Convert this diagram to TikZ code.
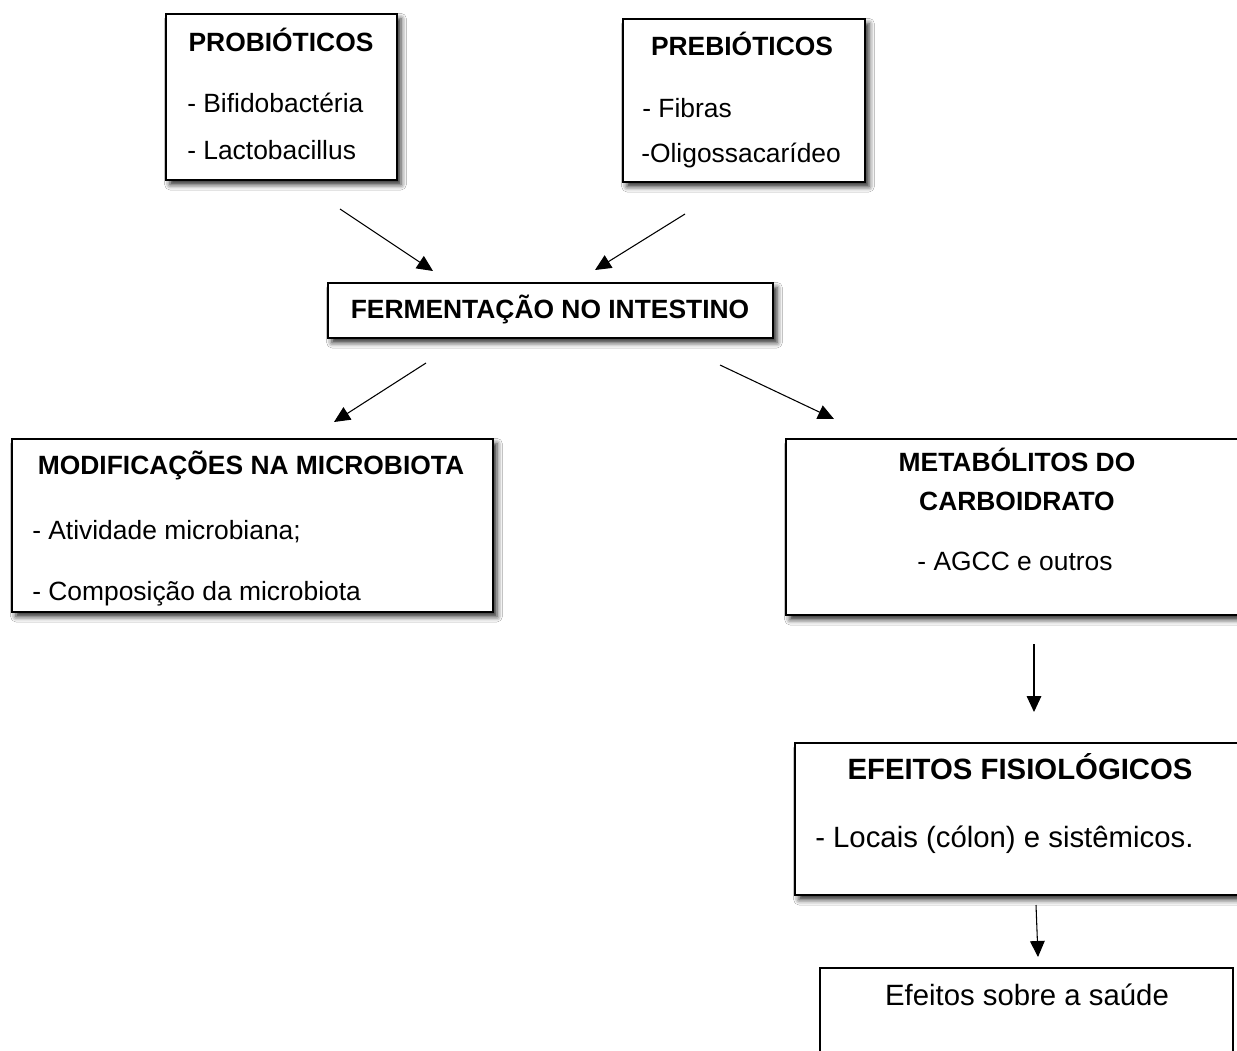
\documentclass[tikz,border=0pt]{standalone}
\usepackage{fontspec}
\setmainfont{Liberation Sans}
\usetikzlibrary{arrows.meta,fit,shadows.blur}

\begin{document}
\begin{tikzpicture}[x=0.75pt, y=-0.75pt,
	box/.style={draw, line width=1.5pt, fill=white, inner sep=0pt,
		blur shadow={shadow xshift=3pt, shadow yshift=-3.5pt, shadow blur radius=4pt, shadow opacity=85}},
	plain box/.style={draw, line width=1.5pt, fill=white, inner sep=0pt},
	title/.style={font=\fontsize{19.8}{24}\selectfont\bfseries, anchor=base, inner sep=0pt},
	item/.style={font=\fontsize{19.8}{24}\selectfont, anchor=base west, inner sep=0pt},
	big title/.style={title, font=\fontsize{22}{26}\selectfont\bfseries},
	big item/.style={item, font=\fontsize{22}{26}\selectfont},
	arrow/.style={-{Triangle[length=12pt,width=11pt]}, line width=0.8pt},]

\useasboundingbox (0,0) rectangle (1237,1050);
\clip (0,0) rectangle (1237,1050);
\fill[white] (0,0) rectangle (1237,1050);

% sources
\node[box, fit={(166,14) (397,180)}] (probio) {};
\node[title] (probioT) at (281,51) {PROBIÓTICOS};
\node[item] (bifido) at (187,112) {- Bifidobactéria};
\node[item] (lacto) at (187,159) {- Lactobacillus};

\node[box, fit={(623,19) (865,182)}] (prebio) {};
\node[title] (prebioT) at (742,55) {PREBIÓTICOS};
\node[item] (fibras) at (642,117) {- Fibras};
\node[item] (oligo) at (641,162) {-Oligossacarídeo};

% fermentation
\node[box, fit={(328,283) (773,338)}] (ferm) {};
\node[title] (fermT) at (550,318) {FERMENTAÇÃO NO INTESTINO};

% results
\node[box, fit={(12,439) (493,612)}] (modif) {};
\node[title] (modifT) at (251,474) {MODIFICAÇÕES NA MICROBIOTA};
\node[item] (ativ) at (32,539) {- Atividade microbiana;};
\node[item] (compo) at (32,600) {- Composição da microbiota};

\node[box, fit={(786,439) (1246,615)}] (metab) {};
\node[title] (metabT) at (1017,471) {METABÓLITOS DO};
\node[title] (metabT2) at (1017,510) {CARBOIDRATO};
\node[title, font=\fontsize{19.8}{24}\selectfont] (agcc) at (1015,570) {- AGCC e outros};

\node[box, fit={(795,743) (1246,895)}] (efeit) {};
\node[big title] (efeitT) at (1020,779) {EFEITOS FISIOLÓGICOS};
\node[big item] (locais) at (815,847) {- Locais (cólon) e sistêmicos.};

\node[plain box, fit={(820,968) (1233,1075)}] (saude) {};
\node[big title, font=\fontsize{22}{26}\selectfont] (saudeT) at (1027,1005) {Efeitos sobre a saúde};

% arrows
\coordinate (p1) at (340,209); \coordinate (f1) at (433,271);
\coordinate (p2) at (685,214); \coordinate (f2) at (595,270);
\coordinate (m1) at (426,363); \coordinate (m2) at (334,422);
\coordinate (c1) at (720,365); \coordinate (c2) at (834,419);
\coordinate (e1) at (1034,644); \coordinate (e2) at (1034,712);
\coordinate (s1) at (1036,905); \coordinate (s2) at (1038,957);
\draw[arrow] (p1) -- (f1);
\draw[arrow] (p2) -- (f2);
\draw[arrow] (m1) -- (m2);
\draw[arrow] (c1) -- (c2);
\draw[arrow] (e1) -- (e2);
\draw[arrow] (s1) -- (s2);

\end{tikzpicture}
\end{document}
